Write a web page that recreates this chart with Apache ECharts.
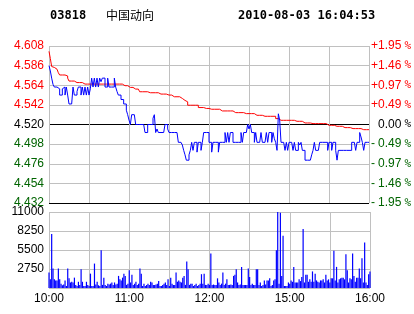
<!DOCTYPE html>
<html><head><meta charset="utf-8">
<script src="https://cdn.jsdelivr.net/npm/echarts@6/dist/echarts.min.js"></script>
<style>html,body{margin:0;padding:0;background:#fff}#c{width:414px;height:314px}</style>
</head><body><div id="c"></div>
<script>
const stockCode = '03818';
const stockName = '中国动向';
const timestamp = '2010-08-03 16:04:53';
const prevClose = 4.520;
const xTickLabels = ['10:00', '', '11:00', '', '12:00', '', '15:00', '', '16:00'];
const priceTickLabels = ['4.432', '4.454', '4.476', '4.498', '4.520', '4.542', '4.564', '4.586', '4.608'];
const pctTickLabels = ['-1.95', '-1.46', '-0.97', '-0.49', '0.00', '+0.49', '+0.97', '+1.46', '+1.95'];
const volTickLabels = ['', '2750', '5500', '8250', '11000'];

// one value per minute of the trading session (10:00-12:30, 14:30-16:00)
const price = [
4.586,4.580,4.572,4.565,4.562,4.562,4.560,4.560,4.553,4.553,
4.560,4.562,4.553,4.562,4.553,4.543,4.543,4.543,4.562,4.553,
4.553,4.557,4.562,4.562,4.553,4.562,4.553,4.562,4.553,4.562,
4.553,4.560,4.572,4.562,4.572,4.562,4.572,4.562,4.572,4.568,
4.572,4.572,4.562,4.562,4.572,4.562,4.562,4.562,4.562,4.572,
4.562,4.557,4.553,4.553,4.548,4.548,4.543,4.543,4.536,4.531,
4.525,4.520,4.531,4.531,4.531,4.520,4.520,4.520,4.520,4.520,
4.520,4.520,4.511,4.511,4.520,4.520,4.520,4.520,4.527,4.531,
4.511,4.515,4.511,4.511,4.511,4.511,4.511,4.520,4.520,4.515,
4.511,4.511,4.511,4.511,4.511,4.511,4.511,4.500,4.500,4.500,
4.497,4.491,4.486,4.480,4.480,4.486,4.491,4.500,4.491,4.500,
4.500,4.489,4.500,4.500,4.491,4.500,4.511,4.511,4.511,4.511,
4.500,4.500,4.489,4.500,4.500,4.500,4.500,4.489,4.500,4.500,
4.500,4.500,4.511,4.500,4.511,4.500,4.511,4.511,4.500,4.500,
4.500,4.500,4.500,4.500,4.511,4.500,4.511,4.511,4.511,4.520,
4.515,4.520,4.511,4.511,4.500,4.511,4.500,4.500,4.500,4.511,
4.500,4.500,4.500,4.511,4.500,4.511,4.511,4.500,4.511,4.504,
4.500,4.491,4.532,4.525,4.500,4.500,4.500,4.491,4.500,4.491,
4.500,4.500,4.500,4.491,4.500,4.491,4.491,4.500,4.497,4.500,
4.491,4.491,4.480,4.480,4.480,4.480,4.480,4.486,4.491,4.500,
4.491,4.491,4.491,4.500,4.500,4.500,4.500,4.500,4.500,4.491,
4.500,4.500,4.491,4.500,4.500,4.491,4.480,4.491,4.491,4.491,
4.491,4.491,4.491,4.491,4.491,4.491,4.491,4.500,4.500,4.500,
4.491,4.500,4.500,4.511,4.506,4.500,4.491,4.500,4.500,4.500,4.500
];

const avgPrice = [
4.602,4.594,4.585,4.584,4.583,4.582,4.580,4.578,4.5755,4.5755,
4.5755,4.5755,4.5755,4.5744,4.572,4.5687,4.5687,4.5687,4.5687,4.567,
4.567,4.567,4.567,4.567,4.567,4.5653,4.5653,4.5653,4.5653,4.5653,
4.5653,4.5653,4.5653,4.5653,4.5653,4.5653,4.5653,4.5653,4.5653,4.5653,
4.5653,4.5653,4.5653,4.5653,4.5653,4.5653,4.5653,4.5653,4.5653,4.5653,
4.5653,4.5653,4.5653,4.5653,4.5653,4.5653,4.5635,4.5635,4.5635,4.5616,
4.5616,4.5616,4.5616,4.5597,4.5597,4.5597,4.5597,4.5597,4.5567,4.5567,
4.5567,4.5567,4.5567,4.5567,4.5567,4.5556,4.5556,4.5556,4.5556,4.5556,
4.5556,4.5556,4.5541,4.5541,4.5541,4.5541,4.5541,4.5541,4.5541,4.553,
4.553,4.553,4.553,4.5511,4.5511,4.5511,4.5511,4.5511,4.5492,4.5492,
4.5492,4.547,4.5454,4.5454,4.5416,4.5416,4.5416,4.5416,4.5416,4.5416,
4.5416,4.5416,4.539,4.539,4.539,4.539,4.538,4.538,4.538,4.538,
4.5371,4.5371,4.5371,4.5371,4.5371,4.5371,4.5371,4.5371,4.5371,4.5352,
4.5352,4.5352,4.5352,4.5352,4.5352,4.5352,4.5352,4.5352,4.5333,4.5333,
4.5333,4.5333,4.5333,4.5333,4.5333,4.5333,4.5322,4.5322,4.5322,4.5322,
4.5322,4.5322,4.5322,4.5322,4.5303,4.5303,4.5303,4.5303,4.5303,4.5303,
4.5303,4.5292,4.5292,4.5292,4.5292,4.5292,4.5292,4.5292,4.5292,4.5292,
4.5266,4.5266,4.5266,4.5247,4.5247,4.5247,4.5247,4.5247,4.5247,4.5247,
4.5247,4.5247,4.5247,4.5247,4.5236,4.5236,4.5236,4.5236,4.5236,4.5236,
4.5217,4.5217,4.5217,4.5217,4.5217,4.5217,4.5217,4.521,4.521,4.521,
4.521,4.521,4.521,4.521,4.521,4.521,4.521,4.521,4.521,4.5191,
4.5191,4.5191,4.5191,4.5191,4.518,4.518,4.518,4.518,4.518,4.518,
4.5165,4.5165,4.5165,4.5165,4.5165,4.5165,4.5165,4.5154,4.5154,4.5154,
4.5154,4.5154,4.5154,4.5154,4.5142,4.5142,4.5142,4.5142,4.5142,4.5142,4.5142
];

const volume = [
2226,1251,7800,2808,1251,1100,1100,2808,1251,630,
400,500,1100,290,2808,1400,800,900,800,1500,
450,290,900,450,2700,900,290,290,900,450,
290,2080,290,290,3535,500,900,400,290,5470,
450,1500,450,290,630,500,630,800,450,800,
500,630,1750,1251,1100,1500,2080,1750,450,630,
2560,800,1900,450,630,900,450,630,2808,2080,
290,630,290,450,630,450,900,800,450,450,
500,630,
1000,290,290,450,630,800,450,1251,290,1500,
630,450,450,2226,900,1100,900,800,1500,1750,
450,3827,2700,450,630,630,290,450,630,290,
450,630,2000,630,2080,450,450,630,450,4990,
450,500,450,450,1400,800,450,630,2226,450,
630,1251,450,450,500,450,1750,1900,2700,800,
450,500,3055,450,450,450,450,2808,1600,450,
630,450,450,2700,2700,450,800,290,450,1100,
500,1100,1100,1400,290,450,1100,1251,5470,11000,
630,10900,1750,7566,290,290,290,800,630,1100,
900,3055,800,800,800,1251,1000,1600,8530,800,
1900,1900,900,1251,900,2400,900,2080,1100,900,
800,1100,1100,1251,800,1900,1100,1251,800,1400,
1400,5380,1100,3055,800,1251,1400,1500,1500,1251,
4890,2560,800,1400,1251,4990,1750,900,1500,1500,
2808,1400,4310,800,6590,800,450,2000,2400
];

const STEP = 0.022;
const tickIdx = v => Math.round((Number(v) + 4 * STEP) / STEP);
const lvlColor = i => i > 4 ? '#ff0000' : (i < 4 ? '#006400' : '#000000');
const ff = 'Liberation Sans';
const mono = 'DejaVu Sans Mono';
const GRIDC = '#c0c0c0';

const chart = echarts.init(document.getElementById('c'));
chart.setOption({
  animation: false,
  title: [
    {text: stockCode, left: 50, top: 10, padding: 0,
     textStyle: {fontFamily: mono, fontWeight: 'bold', fontSize: 12, color: '#000'}},
    {text: stockName, left: 106, top: 9, padding: 0,
     textStyle: {fontFamily: 'Noto Sans CJK SC', fontWeight: 'normal', fontSize: 12, color: '#000'}},
    {text: timestamp, left: 238, top: 10, padding: 0,
     textStyle: {fontFamily: mono, fontWeight: 'bold', fontSize: 12, color: '#000'}}
  ],
  grid: [
    {left: 49, right: 44, top: 46, height: 157},
    {left: 49, right: 44, top: 212, height: 76}
  ],
  xAxis: [
    {gridIndex: 0, type: 'value', min: 0, max: 240, interval: 30,
     axisLine: {show: false}, axisTick: {show: false}, axisLabel: {show: false},
     splitLine: {show: true, lineStyle: {color: GRIDC, width: 1}}},
    {gridIndex: 1, type: 'value', min: 0, max: 240, interval: 30,
     axisLine: {show: false}, axisTick: {show: false},
     axisLabel: {show: true, margin: 5, color: '#000', fontSize: 12, fontFamily: ff,
       formatter: v => xTickLabels[Math.round(v / 30)] || ''},
     splitLine: {show: true, lineStyle: {color: GRIDC, width: 1}}}
  ],
  yAxis: [
    {gridIndex: 0, type: 'value', min: -4 * STEP, max: 4 * STEP, interval: STEP, position: 'left',
     axisLine: {show: false}, axisTick: {show: false},
     axisLabel: {margin: 5, fontSize: 12, fontFamily: ff,
       formatter: v => priceTickLabels[tickIdx(v)],
       color: v => lvlColor(tickIdx(v))},
     splitLine: {show: true, lineStyle: {width: 1,
       color: ['#000000', GRIDC, GRIDC, GRIDC, '#000000', GRIDC, GRIDC, GRIDC, GRIDC]}}},
    {gridIndex: 0, type: 'value', min: -4 * STEP, max: 4 * STEP, interval: STEP, position: 'right',
     axisLine: {show: false}, axisTick: {show: false}, splitLine: {show: false},
     axisLabel: {margin: 2, fontSize: 12, fontFamily: ff, align: 'left',
       formatter: v => {
         const i = tickIdx(v); const t = pctTickLabels[i];
         const c = i > 4 ? 'r' : (i < 4 ? 'g' : 'k');
         const hasSign = t[0] === '+' || t[0] === '-';
         const sign = hasSign ? t[0] : ' ';
         const num = hasSign ? t.slice(1) : t;
         return '{' + c + 's|' + sign + '}{' + c + '|' + num + '}{' + c + 'p|%}';
       },
       rich: {
         rs: {color: '#ff0000', width: 7, fontSize: 12, fontFamily: ff},
         r: {color: '#ff0000', fontSize: 12, fontFamily: ff},
         rp: {color: '#ff0000', fontSize: 11, fontFamily: mono, padding: [0, 0, 0, 3]},
         gs: {color: '#006400', width: 7, fontSize: 12, fontFamily: ff},
         g: {color: '#006400', fontSize: 12, fontFamily: ff},
         gp: {color: '#006400', fontSize: 11, fontFamily: mono, padding: [0, 0, 0, 3]},
         ks: {color: '#000', width: 7, fontSize: 12, fontFamily: ff},
         k: {color: '#000', fontSize: 12, fontFamily: ff},
         kp: {color: '#000', fontSize: 11, fontFamily: mono, padding: [0, 0, 0, 3]}
       }}},
    {gridIndex: 1, type: 'value', min: 0, max: 11000, interval: 2750,
     axisLine: {show: false}, axisTick: {show: false},
     axisLabel: {margin: 5, color: '#000', fontSize: 12, fontFamily: ff,
       formatter: v => volTickLabels[Math.round(v / 2750)] || ''},
     splitLine: {show: true, lineStyle: {color: GRIDC, width: 1}}}
  ],
  series: [
    {type: 'line', xAxisIndex: 0, yAxisIndex: 0, symbol: 'none', step: 'end', z: 3,
     lineStyle: {color: '#ff0000', width: 1},
     data: avgPrice.map((p, i) => [i, +(p - prevClose).toFixed(4)])},
    {type: 'line', xAxisIndex: 0, yAxisIndex: 0, symbol: 'none', step: 'end', z: 4,
     lineStyle: {color: '#0000ff', width: 1},
     data: price.map((p, i) => [i, +(p - prevClose).toFixed(4)])},
    {type: 'bar', xAxisIndex: 1, yAxisIndex: 2, barWidth: 1.2, z: 3, itemStyle: {color: '#0000ff'},
     data: volume.map((v, i) => [i, v])}
  ]
});
</script>
</body></html>
